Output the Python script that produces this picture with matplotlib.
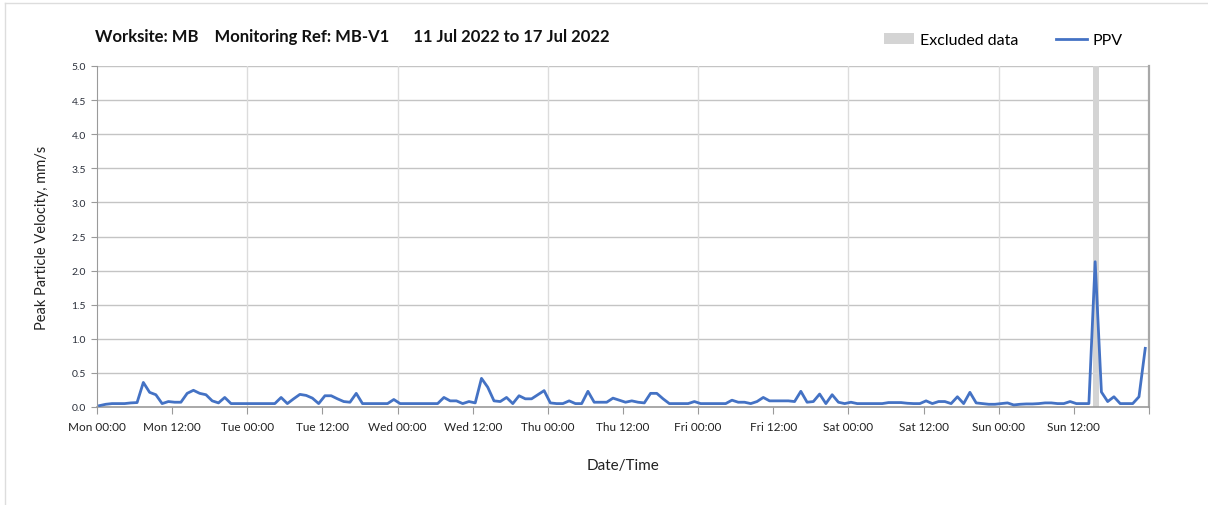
import numpy as np
import matplotlib
matplotlib.use('Agg')
import matplotlib.pyplot as plt
from matplotlib.patches import Patch
from matplotlib.lines import Line2D

plt.rcParams['font.family'] = ['Lato', 'DejaVu Sans']

# hourly PPV readings, Mon 00:00 -> Sun 23:00 (mm/s)
mon = [0.02, 0.04, 0.05, 0.05, 0.05, 0.06, 0.065, 0.36, 0.215, 0.18, 0.05, 0.08,
       0.07, 0.07, 0.2, 0.245, 0.2, 0.18, 0.09, 0.06, 0.14, 0.05, 0.05, 0.05]
tue = [0.05, 0.05, 0.05, 0.05, 0.05, 0.14, 0.05, 0.12, 0.185, 0.17, 0.13, 0.05,
       0.165, 0.165, 0.12, 0.08, 0.07, 0.2, 0.05, 0.05, 0.05, 0.05, 0.05, 0.11]
wed = [0.05, 0.05, 0.05, 0.05, 0.05, 0.05, 0.05, 0.14, 0.09, 0.09, 0.05, 0.08,
       0.06, 0.42, 0.29, 0.09, 0.08, 0.14, 0.05, 0.165, 0.12, 0.12, 0.18, 0.24]
thu = [0.06, 0.05, 0.05, 0.09, 0.05, 0.05, 0.23, 0.07, 0.07, 0.07, 0.13, 0.1,
       0.07, 0.09, 0.07, 0.06, 0.2, 0.2, 0.12, 0.05, 0.05, 0.05, 0.05, 0.08]
fri = [0.05, 0.05, 0.05, 0.05, 0.05, 0.1, 0.07, 0.07, 0.05, 0.08, 0.14, 0.09,
       0.09, 0.09, 0.09, 0.08, 0.23, 0.07, 0.08, 0.19, 0.05, 0.18, 0.07, 0.05]
sat = [0.07, 0.05, 0.05, 0.05, 0.05, 0.05, 0.065, 0.065, 0.065, 0.055, 0.05, 0.05,
       0.09, 0.05, 0.08, 0.08, 0.05, 0.15, 0.05, 0.215, 0.06, 0.05, 0.04, 0.04]
sun = [0.05, 0.06, 0.03, 0.04, 0.045, 0.045, 0.05, 0.06, 0.06, 0.05, 0.05, 0.08,
       0.05, 0.05, 0.05, 2.13, 0.22, 0.08, 0.15, 0.05, 0.05, 0.05, 0.15, 0.86]

ppv = mon + tue + wed + thu + fri + sat + sun
hours = np.arange(len(ppv)) + 0.4   # readings logged ~24 min past the hour

excluded = (159.1, 160.0)   # hours from Mon 00:00

tick_labels = ['Mon 00:00', 'Mon 12:00', 'Tue 00:00', 'Tue 12:00', 'Wed 00:00',
               'Wed 12:00', 'Thu 00:00', 'Thu 12:00', 'Fri 00:00', 'Fri 12:00',
               'Sat 00:00', 'Sat 12:00', 'Sun 00:00', 'Sun 12:00', '']

fig = plt.figure(figsize=(12.08, 5.06), dpi=100)

# faint frame round the chart area (left + top edges visible)
fig.add_artist(Line2D([5/1208, 5/1208], [0, 1-4/506], color='#dddddd', lw=1))
fig.add_artist(Line2D([5/1208, 1], [1-4/506, 1-4/506], color='#dddddd', lw=1))

ax = fig.add_axes([97/1208, 1-408/506, 1052/1208, 341/506])

ax.axvspan(excluded[0], excluded[1], color='#d4d4d4', lw=0, zorder=1)
ax.plot(hours, ppv, color='#4472c4', lw=2.0, zorder=3)

ax.set_xlim(0, 168)
ax.set_ylim(0, 5)
ax.set_xticks(np.arange(0, 169, 12))
ax.set_xticklabels(tick_labels)
ax.set_yticks(np.arange(0, 5.01, 0.5))
ax.set_yticklabels(['%.1f' % v for v in np.arange(0, 5.01, 0.5)])

for y in np.arange(0.5, 5.01, 0.5):
    ax.axhline(y, color='#c4c4c4', lw=1.0, zorder=0)
for x in np.arange(24, 168, 24):
    ax.axvline(x, color='#dcdcdc', lw=1.0, zorder=0)

ax.spines['top'].set_visible(False)
ax.spines['left'].set_color('#9a9a9a')
ax.spines['bottom'].set_color('#9a9a9a')
ax.spines['right'].set_color('#a8a8a8')
ax.spines['bottom'].set_linewidth(1.2)
ax.spines['right'].set_linewidth(1.6)
ax.tick_params(axis='x', colors='#9a9a9a', labelcolor='#222222', labelsize=8.5,
               length=5, pad=5)
ax.tick_params(axis='y', colors='#9a9a9a', labelcolor='#2a2f3a', labelsize=7.5,
               length=4, pad=4)

ax.set_xlabel('Date/Time', fontsize=11, color='#222222', labelpad=19)
ax.set_ylabel('Peak Particle Velocity, mm/s', fontsize=10.5, color='#222222', labelpad=16)

fig.text(95/1208, 1-37/506,
         'Worksite: MB    Monitoring Ref: MB-V1      11 Jul 2022 to 17 Jul 2022',
         fontsize=12, fontweight='bold', va='center', ha='left', color='#111111')

handles = [Patch(facecolor='#d4d4d4', edgecolor='none'),
           Line2D([0], [0], color='#4472c4', lw=2)]
fig.legend(handles, ['Excluded data', 'PPV'], loc='center',
           bbox_to_anchor=(1003/1208, 1-41/506), ncol=2, frameon=False,
           fontsize=11.5, handlelength=1.9, handletextpad=0.35, columnspacing=2.4)

fig.savefig('out.png', dpi=100)
